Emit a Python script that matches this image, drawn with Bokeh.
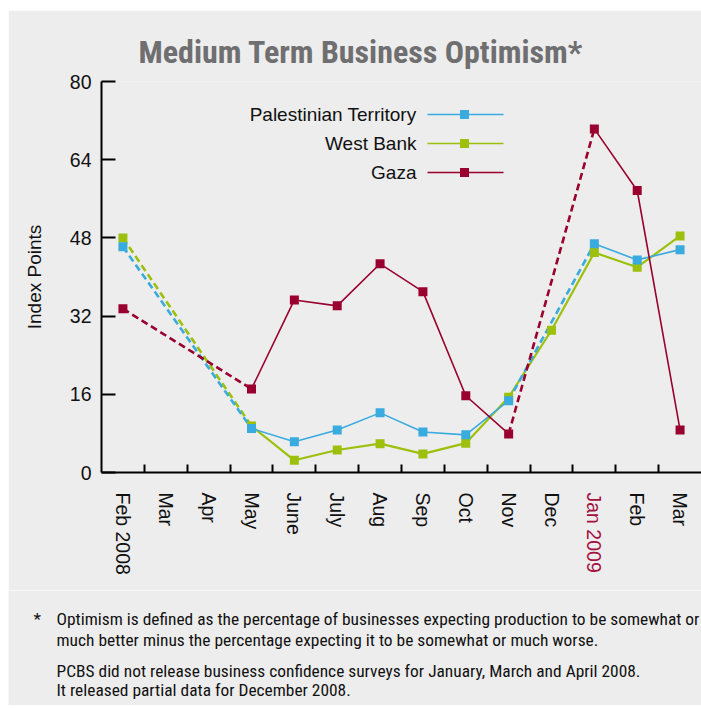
import math
from bokeh.plotting import figure
from bokeh.models import Range1d, FixedTicker, Label, LinearAxis, Spacer
from bokeh.layouts import column, row
from bokeh.embed import file_html
from bokeh.resources import INLINE

# ---------------- data ----------------
months = ["Feb 2008", "Mar", "Apr", "May", "June", "July", "Aug", "Sep",
          "Oct", "Nov", "Dec", "Jan 2009", "Feb", "Mar"]
nan = float("nan")
palestinian_territory = [46.2, nan, nan, 9.0, 6.3, 8.7, 12.2, 8.3, 7.7, 14.7, nan, 46.8, 43.5, 45.6]
west_bank = [48.0, nan, nan, 9.5, 2.5, 4.6, 5.9, 3.8, 6.0, 15.4, 29.1, 45.0, 42.0, 48.4]
gaza = [33.5, nan, nan, 17.1, 35.3, 34.1, 42.7, 37.0, 15.7, 7.9, nan, 70.3, 57.7, 8.7]
series_names = ["Palestinian Territory", "West Bank", "Gaza"]
y_ticks = [0, 16, 32, 48, 64, 80]
highlight_month = "Jan 2009"
title_text = "Medium Term Business Optimism*"
y_title = "Index Points"
note_star = "*"
note_lines = [
    "Optimism is defined as the percentage of businesses expecting production to be somewhat or",
    "much better minus the percentage expecting it to be somewhat or much worse.",
    "PCBS did not release business confidence surveys for January, March and April 2008.",
    "It released partial data for December 2008.",
]

# ---------------- style / layout ----------------
BG = "#ededed"
BLUE = "#3aabdf"
GREEN = "#9cc00b"
RED = "#99002f"
HILITE = "#a3103f"
INK = "#111111"
TITLE_GREY = "#6f6f71"
FONT = "Liberation Sans"
NARROW = "'Roboto Condensed', 'DejaVu Sans Condensed', Roboto"
TICK_FS = "19.5px"

OX, OY = 8, 10            # page offset of the grey panel
W = 693
H1 = 580                  # main figure height (page y 10 .. 590)
H2 = 115                  # notes figure height (page y 590 .. 705)
FRAME_L, FRAME_T, FRAME_B, FRAME_R = 101, 81, 472, 701
XMAX = 14
YMAX = 80


def dx(px):  # page pixel -> data x of main plot
    return (px - FRAME_L) / (FRAME_R - FRAME_L) * XMAX


def dy(py):  # page pixel -> data y of main plot
    return (FRAME_B - py) / (FRAME_B - FRAME_T) * YMAX


p = figure(width=W, height=H1, output_backend="svg", toolbar_location=None,
           x_range=Range1d(0, XMAX), y_range=Range1d(0, YMAX),
           min_border_left=FRAME_L - OX, min_border_top=FRAME_T - OY, min_border_right=0,
           min_border_bottom=H1 - (FRAME_T - OY) - (FRAME_B - FRAME_T))
p.frame_align = False
p.background_fill_color = BG
p.border_fill_color = BG
p.outline_line_color = None
p.xgrid.visible = False
p.ygrid.visible = False

# title
p.title.text = title_text
p.title.align = "left"
p.title.offset = 37
p.title.standoff = 21
p.title.text_font = NARROW
p.title.text_font_style = "bold"
p.title.text_font_size = "32px"
p.title.text_color = TITLE_GREY

xs = [i + 0.5 for i in range(len(months))]

# x axis: labels at category centres, tick marks at boundaries
xa = p.xaxis[0]
xa.ticker = FixedTicker(ticks=xs, minor_ticks=list(range(1, len(months))))
xa.major_label_overrides = {x: ("" if m == highlight_month else m) for x, m in zip(xs, months)}
xa.major_label_orientation = "vertical"
xa.major_tick_line_color = None
xa.major_tick_in = 0
xa.major_tick_out = 0
xa.minor_tick_in = 8
xa.minor_tick_out = 0
xa.minor_tick_line_width = 2
xa.minor_tick_line_color = "black"
xa.axis_line_width = 2
xa.axis_line_color = "black"
xa.major_label_standoff = 20
xa.major_label_text_font = FONT
xa.major_label_text_font_size = TICK_FS
xa.major_label_text_color = INK

# second x axis carrying only the highlighted (red) month label, pulled up over the first
hi = months.index(highlight_month)
xa2 = LinearAxis(ticker=FixedTicker(ticks=[xs[hi]], minor_ticks=[]),
                 major_label_overrides={xs[hi]: highlight_month})
xa2.major_label_orientation = "vertical"
xa2.axis_line_color = None
xa2.major_tick_line_color = None
xa2.minor_tick_line_color = None
xa2.major_tick_in = 0
xa2.major_tick_out = 0
xa2.major_label_standoff = -85
xa2.major_label_text_font = FONT
xa2.major_label_text_font_size = TICK_FS
xa2.major_label_text_color = HILITE
p.add_layout(xa2, "below")

ya = p.yaxis[0]
ya.ticker = FixedTicker(ticks=y_ticks)
ya.minor_tick_line_color = None
ya.major_tick_in = 14
ya.major_tick_out = 0
ya.major_tick_line_width = 2
ya.major_tick_line_color = "black"
ya.axis_line_width = 2
ya.axis_line_color = "black"
ya.major_label_standoff = 10
ya.major_label_text_font = FONT
ya.major_label_text_font_size = TICK_FS
ya.major_label_text_color = INK
ya.axis_label = y_title
ya.axis_label_text_font = FONT
ya.axis_label_text_font_size = "19px"
ya.axis_label_text_font_style = "normal"
ya.axis_label_text_color = INK
ya.axis_label_standoff = 22

# ---------------- series ----------------
series = [(west_bank, GREEN, 2.2), (palestinian_territory, BLUE, 1.6), (gaza, RED, 1.6)]
for vals, col, lw in series:
    p.line(xs, vals, line_color=col, line_width=lw)
    valid = [i for i, v in enumerate(vals) if not math.isnan(v)]
    x0, y0, x1, y1 = [], [], [], []
    for a, b in zip(valid[:-1], valid[1:]):
        if b - a > 1:
            x0.append(xs[a]); y0.append(vals[a]); x1.append(xs[b]); y1.append(vals[b])
    p.segment(x0, y0, x1, y1, line_color=col, line_width=2.6, line_dash="7 4")
for vals, col, lw in series:
    px_ = [x for x, v in zip(xs, vals) if not math.isnan(v)]
    py_ = [v for v in vals if not math.isnan(v)]
    p.scatter(px_, py_, marker="square", size=9, fill_color=col, line_color=None)

# ---------------- legend (right-aligned labels, samples to the right) ----------------
leg_cols = [BLUE, GREEN, RED]
leg_rows = [114, 143, 172]
for name, col, ry in zip(series_names, leg_cols, leg_rows):
    p.add_layout(Label(x=dx(416), y=dy(ry), text=name, text_align="right",
                       text_baseline="middle", text_font=FONT, text_font_size="19px",
                       text_color=INK))
    p.segment([dx(427)], [dy(ry)], [dx(503)], [dy(ry)], line_color=col, line_width=1.6)
    p.scatter([dx(464)], [dy(ry)], marker="square", size=9, fill_color=col, line_color=None)

# ---------------- footnotes (own figure; data units = page pixels) ----------------
q = figure(width=W, height=H2, output_backend="svg", toolbar_location=None,
           x_range=Range1d(OX, OX + W), y_range=Range1d(OY + H1 + H2, OY + H1),
           x_axis_location=None, y_axis_location=None, min_border=0)
q.frame_align = False
q.background_fill_color = BG
q.border_fill_color = BG
q.outline_line_color = None
q.xgrid.visible = False
q.ygrid.visible = False
q.add_layout(Label(x=33, y=618, text=note_star, text_align="left",
                   text_baseline="alphabetic", text_font=NARROW, text_font_size="17.4px",
                   text_color=INK))
for line, by in zip(note_lines, [618, 639, 670, 689]):
    q.add_layout(Label(x=56, y=by, text=line, text_align="left",
                       text_baseline="alphabetic", text_font=NARROW, text_font_size="17.4px",
                       text_color=INK))

layout = column(Spacer(height=OY), row(Spacer(width=OX), column(p, q, spacing=0)), spacing=0)
open("out.html", "w").write(file_html(layout, INLINE))
